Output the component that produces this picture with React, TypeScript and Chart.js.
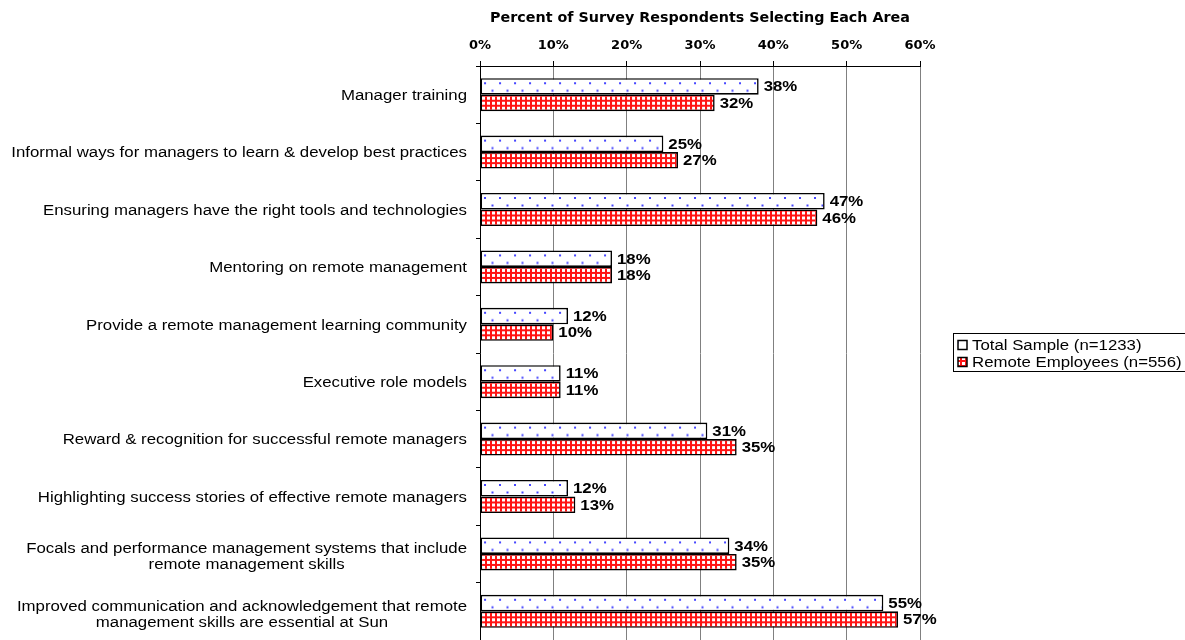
import React, { useEffect, useRef } from "react";
import { Chart, registerables } from "chart.js";

Chart.register(...registerables);

const categories: string[][] = [
  ["Manager training"],
  ["Informal ways for managers to learn & develop best practices"],
  ["Ensuring managers have the right tools and technologies"],
  ["Mentoring on remote management"],
  ["Provide a remote management learning community"],
  ["Executive role models"],
  ["Reward & recognition for successful remote managers"],
  ["Highlighting success stories of effective remote managers"],
  ["Focals and performance management systems that include", "remote management skills"],
  ["Improved communication and acknowledgement that remote", "management skills are essential at Sun"],
];
const totalSample = [38, 25, 47, 18, 12, 11, 31, 12, 34, 55];
const remoteEmployees = [32, 27, 46, 18, 10, 11, 35, 13, 35, 57];
const seriesNames = ["Total Sample (n=1233)", "Remote Employees (n=556)"];
const xMin = 0;
const xMax = 60;
const xStep = 10;
const axisTitle = "Percent of Survey Respondents Selecting Each Area";

const FONT = '"DejaVu Sans", "Liberation Sans", Arial, sans-serif';
const ARIAL = '"Liberation Sans", Arial, Helvetica, sans-serif';
const SX = 1.2;
const CAT_PCT = 0.575;

function dotTile(): HTMLCanvasElement {
  const c = document.createElement("canvas");
  c.width = 15;
  c.height = 15;
  const g = c.getContext("2d")!;
  g.fillStyle = "#ffffff";
  g.fillRect(0, 0, 15, 15);
  g.fillStyle = "#4646ff";
  g.fillRect(4, 4, 2, 2);
  g.fillRect(11.5, 11.5, 2, 2);
  return c;
}

function gridTile(): HTMLCanvasElement {
  const c = document.createElement("canvas");
  c.width = 5;
  c.height = 5;
  const g = c.getContext("2d")!;
  g.fillStyle = "#ffffff";
  g.fillRect(0, 0, 5, 5);
  g.fillStyle = "#ff1414";
  g.fillRect(0, 0, 2, 5);
  g.fillRect(0, 0, 5, 2);
  return c;
}

function stretchedText(ctx: CanvasRenderingContext2D, text: string, x: number, y: number, align: CanvasTextAlign) {
  ctx.save();
  ctx.translate(x, y);
  ctx.scale(SX, 1);
  ctx.textAlign = align;
  ctx.fillText(text, 0, 0);
  ctx.restore();
}

export default function App() {
  const ref = useRef<HTMLCanvasElement | null>(null);

  useEffect(() => {
    document.body.style.margin = "0";
    const canvas = ref.current;
    if (!canvas) return;
    const ctx2d = canvas.getContext("2d")!;
    const dTile = dotTile();
    const gTile = gridTile();
    const dots = ctx2d.createPattern(dTile, "repeat")!;
    const grid = ctx2d.createPattern(gTile, "repeat")!;

    const patternFor = (tile: HTMLCanvasElement, first: boolean) => (c: any) => {
      const chart = c.chart;
      const ys = chart.scales && chart.scales.y;
      const area = chart.chartArea;
      if (!ys || !area || c.dataIndex === undefined) return first ? dots : grid;
      const center = ys.getPixelForValue(c.dataIndex);
      const cat = Math.abs(ys.getPixelForValue(1) - ys.getPixelForValue(0));
      const barH = (cat * CAT_PCT) / 2;
      const top = first ? center - barH : center;
      const p = ctx2d.createPattern(tile, "repeat")!;
      p.setTransform(new DOMMatrix([1, 0, 0, 1, area.left, top]));
      return p;
    };

    const valueLabels = {
      id: "valueLabels",
      afterDatasetsDraw(chart: any) {
        const ctx = chart.ctx;
        ctx.save();
        ctx.font = `bold 14px ${ARIAL}`;
        ctx.fillStyle = "#000";
        ctx.textBaseline = "middle";
        chart.data.datasets.forEach((ds: any, di: number) => {
          const meta = chart.getDatasetMeta(di);
          meta.data.forEach((el: any, i: number) => {
            stretchedText(ctx, `${ds.data[i]}%`, el.x + 5, el.y + 1, "left");
          });
        });
        ctx.restore();
      },
    };

    const categoryLabels = {
      id: "categoryLabels",
      afterDraw(chart: any) {
        const ctx = chart.ctx;
        const ys = chart.scales.y;
        ctx.save();
        ctx.font = `14px ${ARIAL}`;
        ctx.fillStyle = "#000";
        ctx.textBaseline = "middle";
        const right = ys.right - 13;
        const lh = 16;
        categories.forEach((lines, i) => {
          const cy = ys.getPixelForValue(i) + (lines.length > 1 ? 3.5 : 1.5);
          const w = Math.max(...lines.map((l) => ctx.measureText(l).width)) * SX;
          const cx = right - w / 2;
          lines.forEach((l, j) => {
            stretchedText(ctx, l, cx, cy + (j - (lines.length - 1) / 2) * lh, "center");
          });
        });
        ctx.restore();
      },
    };

    const boxLegend = {
      id: "boxLegend",
      afterDraw(chart: any) {
        const ctx = chart.ctx;
        ctx.save();
        ctx.strokeStyle = "#000";
        ctx.lineWidth = 1;
        ctx.strokeRect(953.5, 333.5, 260, 38);
        ctx.font = `14px ${ARIAL}`;
        ctx.textBaseline = "middle";
        const fills = [dots, grid];
        seriesNames.forEach((name, i) => {
          const cy = 345 + i * 17;
          ctx.fillStyle = fills[i] as any;
          ctx.fillRect(958, cy - 4.5, 9, 9);
          ctx.strokeStyle = "#000";
          ctx.lineWidth = 1.5;
          ctx.strokeRect(958, cy - 4.5, 9, 9);
          ctx.fillStyle = "#000";
          stretchedText(ctx, name, 972, cy + 1, "left");
        });
        ctx.restore();
      },
    };

    const chart = new Chart(canvas, {
      type: "bar",
      data: {
        labels: categories,
        datasets: [
          {
            label: seriesNames[0],
            data: totalSample,
            backgroundColor: patternFor(dTile, true) as any,
            borderColor: "#000",
            borderWidth: 1.6,
            borderSkipped: false,
            categoryPercentage: CAT_PCT,
            barPercentage: 1,
          },
          {
            label: seriesNames[1],
            data: remoteEmployees,
            backgroundColor: patternFor(gTile, false) as any,
            borderColor: "#000",
            borderWidth: 1.6,
            borderSkipped: false,
            categoryPercentage: CAT_PCT,
            barPercentage: 1,
          },
        ],
      },
      options: {
        indexAxis: "y",
        responsive: false,
        animation: false,
        layout: { padding: { left: 0, right: 265, top: 0, bottom: -3 } },
        plugins: {
          legend: { display: false },
          tooltip: { enabled: false },
        },
        scales: {
          x: {
            position: "top",
            min: xMin,
            max: xMax,
            afterFit: (s: any) => {
              s.height = 66;
            },
            ticks: {
              stepSize: xStep,
              padding: 8,
              color: "#000",
              font: { family: FONT, size: 13, weight: "bold" },
              callback: (v: any) => `${v}%`,
            },
            grid: {
              color: "#808080",
              lineWidth: 1,
              tickLength: 5,
              tickColor: "#000",
            },
            border: { color: "#000", width: 1 },
            title: {
              display: true,
              text: axisTitle,
              color: "#000",
              font: { family: FONT, size: 14.3, weight: "bold" },
              padding: { top: 10, bottom: 0 },
            },
          },
          y: {
            afterFit: (s: any) => {
              s.width = 480;
            },
            ticks: { display: false },
            grid: {
              drawOnChartArea: false,
              offset: true,
              tickLength: 4,
              tickColor: "#000",
              color: "#000",
            },
            border: { color: "#000", width: 1 },
          },
        },
      },
      plugins: [valueLabels, categoryLabels, boxLegend],
    });
    return () => chart.destroy();
  }, []);

  return (
    <div style={{ width: 1185, height: 640, overflow: "hidden" }}>
      <canvas ref={ref} width={1185} height={640} style={{ display: "block" }} />
    </div>
  );
}
